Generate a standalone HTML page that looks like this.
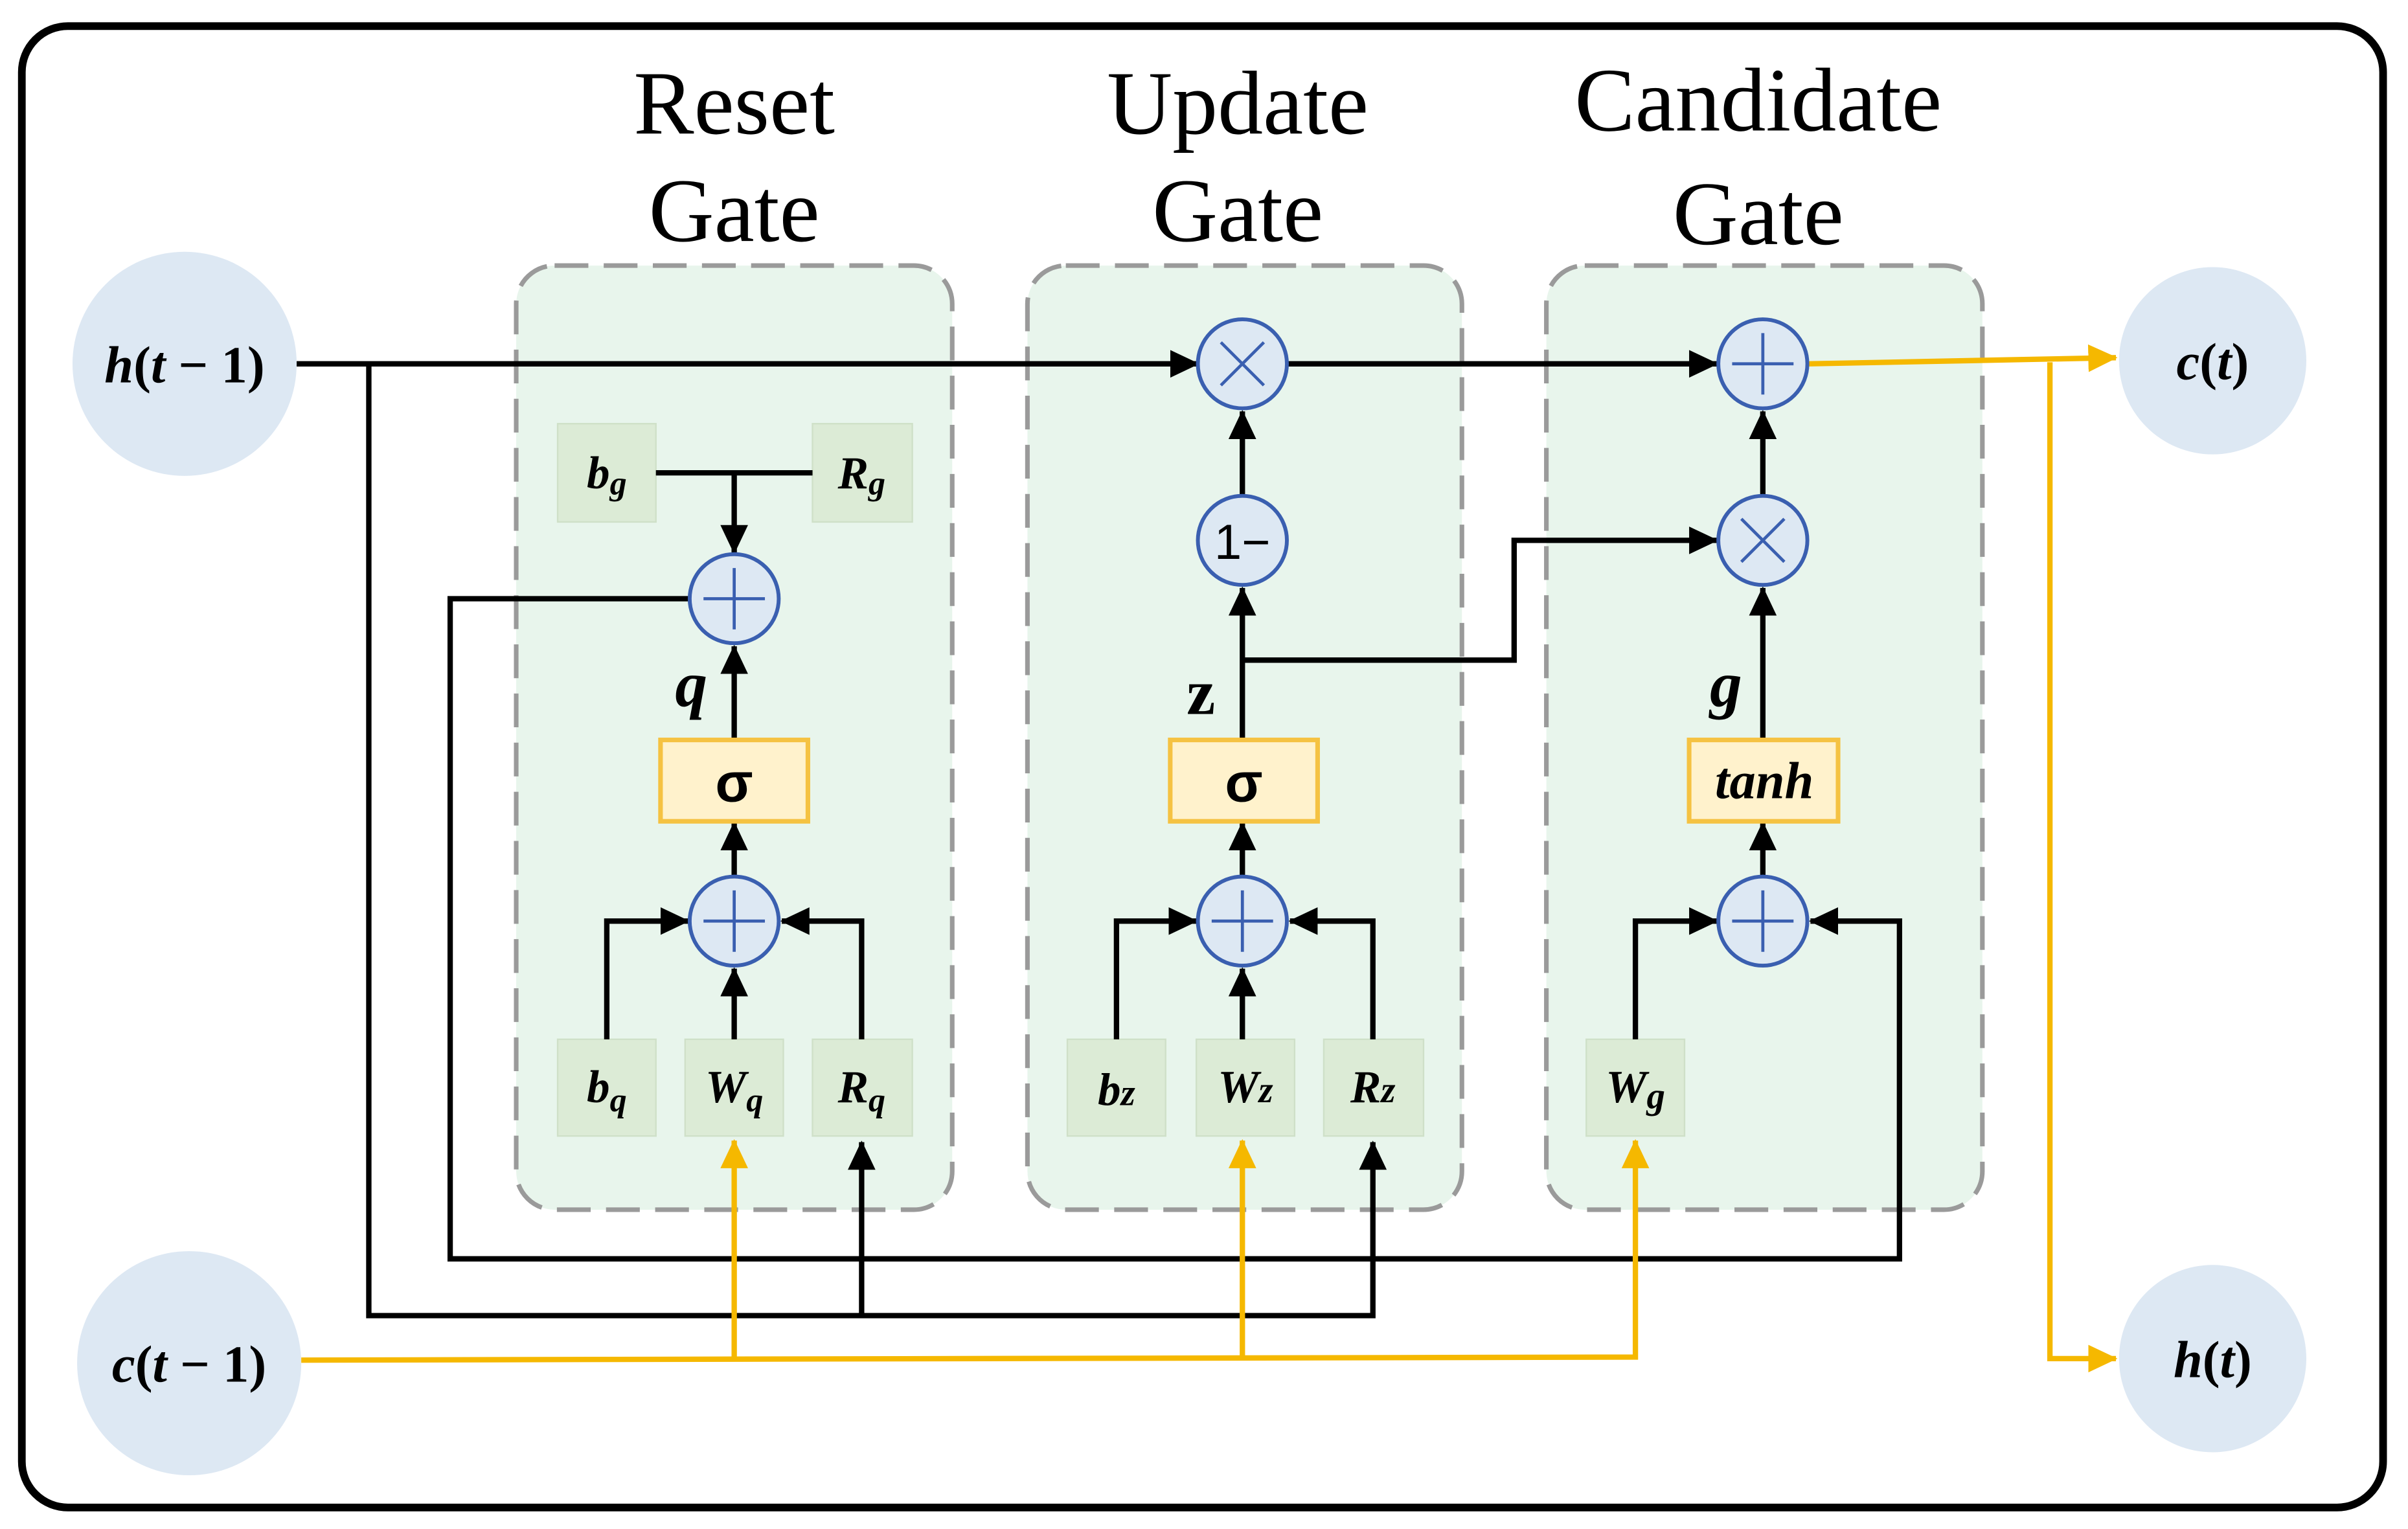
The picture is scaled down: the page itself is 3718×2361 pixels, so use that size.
<!DOCTYPE html>
<html><head><meta charset="utf-8"><style>
html,body{margin:0;padding:0;background:#fff;}
svg{display:block;}
</style></head><body>
<svg width="3718" height="2361" viewBox="0 0 1568 996" xmlns="http://www.w3.org/2000/svg" font-family="Liberation Serif, serif">
<defs>
<marker id="ab" markerUnits="userSpaceOnUse" markerWidth="20" markerHeight="20" refX="18" refY="9" orient="auto"><path d="M0,0 L19,9 L0,18 Z" fill="#000"/></marker>
<marker id="ay" markerUnits="userSpaceOnUse" markerWidth="20" markerHeight="20" refX="18" refY="9" orient="auto"><path d="M0,0 L19,9 L0,18 Z" fill="#f5b800"/></marker>
</defs>
<rect x="0" y="0" width="1568" height="996" fill="#fff"/>
<rect x="14" y="17" width="1538" height="965" rx="30" fill="#fff" stroke="#000" stroke-width="5"/>
<g fill="#e8f5ec" stroke="#9a9a9a" stroke-width="3" stroke-dasharray="22,10">
<rect x="336" y="173" width="284" height="615" rx="25"/>
<rect x="669" y="173" width="283" height="615" rx="25"/>
<rect x="1007" y="173" width="284" height="615" rx="25"/>
</g>
<g font-size="59" text-anchor="middle" fill="#000">
<text x="478" y="87">Reset</text><text x="478" y="157">Gate</text>
<text x="806" y="87">Update</text><text x="806" y="157">Gate</text>
<text x="1145" y="85">Candidate</text><text x="1145" y="159">Gate</text>
</g>
<g fill="#dde8f3">
<circle cx="120" cy="237" r="73"/><circle cx="123" cy="888" r="73"/>
<circle cx="1441" cy="235" r="61"/><circle cx="1441" cy="885" r="61"/>
</g>
<g font-size="34" font-weight="bold" text-anchor="middle" fill="#000">
<text x="120" y="249"><tspan font-style="italic">h</tspan>(<tspan font-style="italic">t</tspan> − 1)</text>
<text x="123" y="900"><tspan font-style="italic">c</tspan>(<tspan font-style="italic">t</tspan> − 1)</text>
<text x="1441" y="247"><tspan font-style="italic">c</tspan>(<tspan font-style="italic">t</tspan>)</text>
<text x="1441" y="897"><tspan font-style="italic">h</tspan>(<tspan font-style="italic">t</tspan>)</text>
</g>
<g fill="#dcebd6" stroke="#cfe0c8" stroke-width="1">
<rect x="363" y="276" width="64" height="64"/><rect x="529" y="276" width="65" height="64"/>
<rect x="363" y="677" width="64" height="63"/><rect x="446" y="677" width="64" height="63"/><rect x="529" y="677" width="65" height="63"/>
<rect x="695" y="677" width="64" height="63"/><rect x="779" y="677" width="64" height="63"/><rect x="862" y="677" width="65" height="63"/>
<rect x="1033" y="677" width="64" height="63"/>
</g>
<g font-size="30" font-weight="bold" font-style="italic" text-anchor="middle" fill="#000">
<text x="395" y="318">b<tspan font-size="22" dy="4">g</tspan></text>
<text x="561" y="318">R<tspan font-size="22" dy="4">g</tspan></text>
<text x="395" y="718">b<tspan font-size="22" dy="6">q</tspan></text>
<text x="478" y="718">W<tspan font-size="22" dy="6">q</tspan></text>
<text x="561" y="718">R<tspan font-size="22" dy="6">q</tspan></text>
<text x="727" y="720">b<tspan font-size="24">z</tspan></text>
<text x="811" y="718">W<tspan font-size="24">z</tspan></text>
<text x="894" y="718">R<tspan font-size="24">z</tspan></text>
<text x="1065" y="718">W<tspan font-size="24" dy="4">g</tspan></text>
</g>
<g fill="none" stroke="#000" stroke-width="3.5">
<path d="M193,237 L780,237" marker-end="url(#ab)"/>
<path d="M838,237 L1118,237" marker-end="url(#ab)"/>
<path d="M240,237 L240,857 L894,857 L894,744" marker-end="url(#ab)"/>
<path d="M561,857 L561,744" marker-end="url(#ab)"/>
<path d="M449,390 L293,390 L293,820 L1237,820 L1237,600 L1179,600" marker-end="url(#ab)"/>
<path d="M427,308 L529,308"/>
<path d="M478,308 L478,360" marker-end="url(#ab)"/>
<path d="M478,482 L478,421" marker-end="url(#ab)"/>
<path d="M478,570 L478,536" marker-end="url(#ab)"/>
<path d="M395,677 L395,600 L448,600" marker-end="url(#ab)"/>
<path d="M478,677 L478,631" marker-end="url(#ab)"/>
<path d="M561,677 L561,600 L509,600" marker-end="url(#ab)"/>
<path d="M727,677 L727,600 L779,600" marker-end="url(#ab)"/>
<path d="M809,677 L809,631" marker-end="url(#ab)"/>
<path d="M894,677 L894,600 L840,600" marker-end="url(#ab)"/>
<path d="M809,570 L809,536" marker-end="url(#ab)"/>
<path d="M809,482 L809,383" marker-end="url(#ab)"/>
<path d="M809,322 L809,268" marker-end="url(#ab)"/>
<path d="M809,430 L986,430 L986,352 L1118,352" marker-end="url(#ab)"/>
<path d="M1065,677 L1065,600 L1118,600" marker-end="url(#ab)"/>
<path d="M1148,570 L1148,536" marker-end="url(#ab)"/>
<path d="M1148,482 L1148,383" marker-end="url(#ab)"/>
<path d="M1148,322 L1148,268" marker-end="url(#ab)"/>
</g>
<g fill="none" stroke="#f5b800" stroke-width="3.5">
<path d="M196,886 L1065,884 L1065,743" marker-end="url(#ay)"/>
<path d="M478,886 L478,743" marker-end="url(#ay)"/>
<path d="M809,886 L809,743" marker-end="url(#ay)"/>
<path d="M1178,237 L1378,233" marker-end="url(#ay)"/>
<path d="M1335,236 L1335,885 L1378,885" marker-end="url(#ay)"/>
</g>
<g fill="#fff2cc" stroke="#f5c242" stroke-width="3">
<rect x="430" y="482" width="96" height="53"/>
<rect x="762" y="482" width="96" height="53"/>
<rect x="1100" y="482" width="97" height="53"/>
</g>
<g font-weight="bold" text-anchor="middle" fill="#000">
<text x="478" y="522" font-size="36" font-family="Liberation Sans, sans-serif">σ</text>
<text x="810" y="522" font-size="36" font-family="Liberation Sans, sans-serif">σ</text>
<text x="1149" y="520" font-size="34" font-style="italic">tanh</text>
<text x="450" y="460" font-size="42" font-style="italic">q</text>
<text x="782" y="465" font-size="42">z</text>
<text x="1124" y="460" font-size="42" font-style="italic">g</text>
</g>
<g fill="#dde8f3" stroke="#3a5fb0" stroke-width="2.5">
<circle cx="478" cy="390" r="29"/><circle cx="478" cy="600" r="29"/>
<circle cx="809" cy="237" r="29"/><circle cx="809" cy="352" r="29"/><circle cx="809" cy="600" r="29"/>
<circle cx="1148" cy="237" r="29"/><circle cx="1148" cy="352" r="29"/><circle cx="1148" cy="600" r="29"/>
</g>
<g stroke="#3a5fb0" stroke-width="2" fill="none">
<path d="M458,390 H498 M478,370 V410"/>
<path d="M458,600 H498 M478,580 V620"/>
<path d="M789,600 H829 M809,580 V620"/>
<path d="M1128,600 H1168 M1148,580 V620"/>
<path d="M1128,237 H1168 M1148,217 V257"/>
<path d="M795,223 L823,251 M823,223 L795,251"/>
<path d="M1134,338 L1162,366 M1162,338 L1134,366"/>
</g>
<text x="809" y="364" font-size="32" text-anchor="middle" font-family="Liberation Sans, sans-serif" fill="#000">1−</text>
</svg>
</body></html>
